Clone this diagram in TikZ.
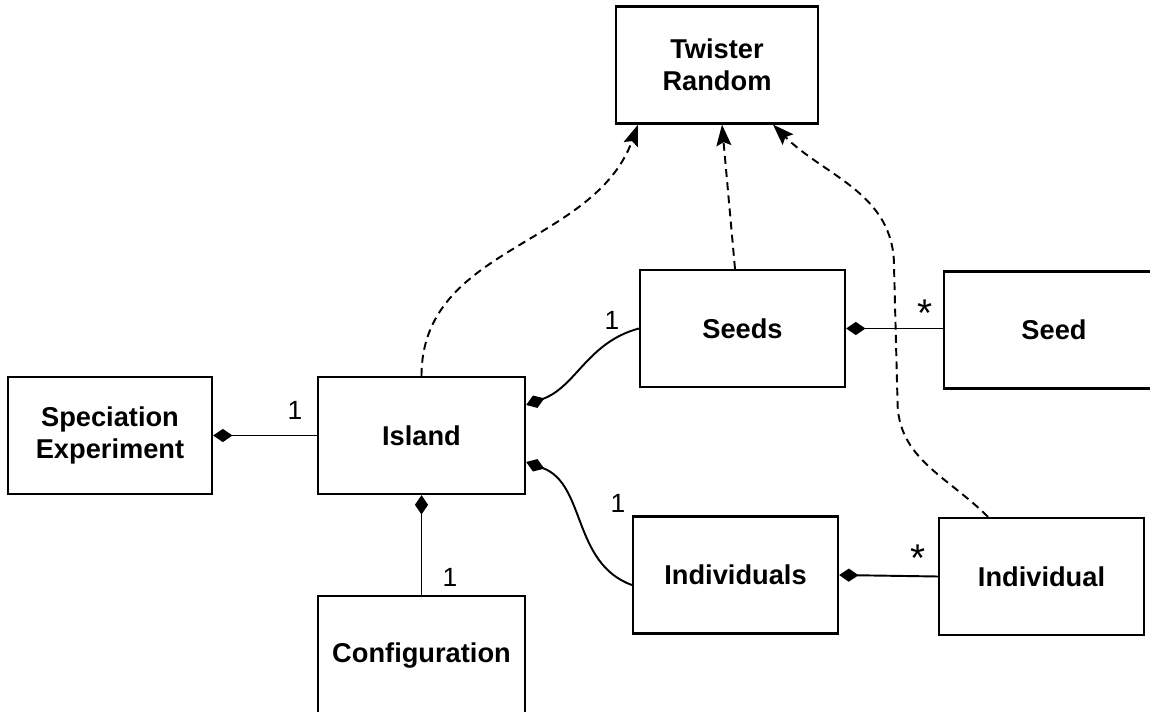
\documentclass[tikz,border=0pt]{standalone}
\usepackage{fontspec}
\setmainfont{Liberation Sans}
\usetikzlibrary{arrows.meta}
\begin{document}
\begin{tikzpicture}[
    cls/.style={rectangle, draw, line width=1.3pt, minimum width=#1, minimum height=2.34cm, align=center, font=\fontsize{15.5}{18.5}\selectfont\bfseries, inner sep=2pt},
    cls/.default=4.1cm,
    part/.style={line width=1.1pt, {Diamond[length=11pt,width=7.5pt]}-},
    uses/.style={line width=1.1pt, dash pattern=on 4.5pt off 3pt, -{Stealth[length=12pt,width=8.5pt,inset=2pt]}},
    mult/.style={font=\fontsize{15}{15}\selectfont, inner sep=1pt},
    many/.style={font=\fontsize{22}{22}\selectfont, inner sep=1pt}
]
\useasboundingbox (0,0) rectangle (23,14.22);
\clip (0,0) rectangle (23,14.22);

% Classes
\node[cls=4.04cm] (twister) at (14.34,12.92) {Twister\\Random};
\node[cls] (seeds) at (14.85,7.65) {Seeds};
\node[cls=4.4cm] (seed) at (21.08,7.62) {Seed};
\node[cls=4.08cm] (spec) at (2.2,5.51) {Speciation\\Experiment};
\node[cls=4.14cm] (island) at (8.43,5.51) {Island};
\node[cls=4.14cm, minimum height=2.4cm] (config) at (8.43,1.1) {Configuration};
\node[cls] (indivs) at (14.71,2.72) {Individuals};
\node[cls] (indiv) at (20.83,2.69) {Individual};

% Composition
\draw[part] (spec.east) -- (island.west);
\draw[part] (island.south) -- (config.north);
\draw[part] ([yshift=0.61cm]island.east) to[out=20, in=195] (seeds.west);
\draw[part] ([yshift=-0.53cm]island.east) to[out=-20, in=160] ([yshift=-0.2cm]indivs.west);
\draw[part] (seeds.east) -- (seeds.east -| seed.west);
\draw[part] (indivs.east) -- (indiv.west);

% Multiplicities
\node[mult] (m1) at (5.9,6.02) {1};
\node[mult] (m2) at (9.0,2.68) {1};
\node[mult] (m3) at (12.24,7.82) {1};
\node[mult] (m4) at (12.36,4.16) {1};
\node[many] (s1) at (18.5,7.95) {*};
\node[many] (s2) at (18.36,3.05) {*};

% Dependencies on the random generator
\draw[uses] (island.north) to[out=90, in=-110] ([xshift=-1.58cm]twister.south);
\draw[uses] ([xshift=-0.15cm]seeds.north) -- ([xshift=0.1cm]twister.south);
\draw[uses] ([xshift=-1.07cm]indiv.north) to[out=135, in=-90] (17.95,6.2) -- (17.88,8.9) to[out=90, in=-45] ([xshift=1.12cm]twister.south);
\end{tikzpicture}
\end{document}
